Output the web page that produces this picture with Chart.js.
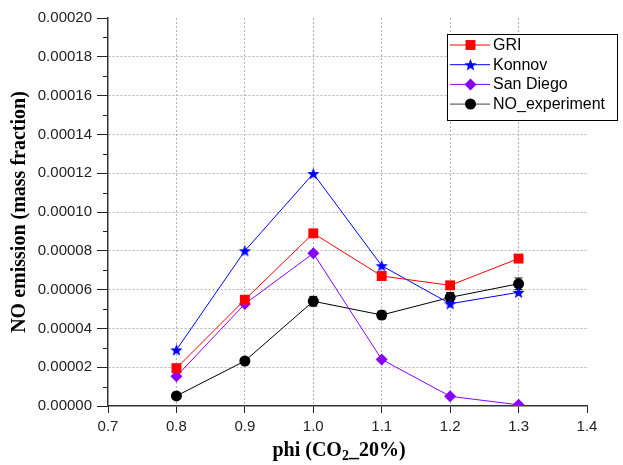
<!DOCTYPE html>
<html>
<head>
<meta charset="utf-8">
<script src="https://cdn.jsdelivr.net/npm/chart.js@4.4.0/dist/chart.umd.min.js"></script>
<style>
  html, body { margin: 0; padding: 0; background: #fff; }
</style>
</head>
<body>
<canvas id="noChart" width="623" height="465"></canvas>
<script>
// data
var phi = [0.8, 0.9, 1.0, 1.1, 1.2, 1.3];
var griValues = [0.0000195, 0.0000548, 0.0000890, 0.0000670, 0.0000622, 0.0000760];
var konnovValues = [0.0000289, 0.0000800, 0.0001198, 0.0000723, 0.0000527, 0.0000586];
var sanDiegoValues = [0.0000153, 0.0000526, 0.0000787, 0.0000240, 0.0000050, 0.0000006];
var experimentValues = [0.0000052, 0.0000232, 0.0000540, 0.0000469, 0.0000560, 0.0000630];
var experimentErrors = [0.0000010, 0.0000010, 0.0000025, 0.0000020, 0.0000025, 0.0000030];
var seriesLabels = ['GRI', 'Konnov', 'San Diego', 'NO_experiment'];
var xTicks = [0.7, 0.8, 0.9, 1.0, 1.1, 1.2, 1.3, 1.4];
var yTicks = [0, 0.00002, 0.00004, 0.00006, 0.00008, 0.0001, 0.00012, 0.00014, 0.00016, 0.00018, 0.0002];

function makeStar(color, r) {
  var s = Math.ceil(r * 2) + 2;
  var c = document.createElement('canvas');
  c.width = s;
  c.height = s;
  var g = c.getContext('2d');
  g.fillStyle = color;
  g.beginPath();
  for (var i = 0; i < 10; i++) {
    var rr = i % 2 === 0 ? r : r * 0.42;
    var a = -Math.PI / 2 + i * Math.PI / 5;
    var px = s / 2 + rr * Math.cos(a);
    var py = s / 2 + 0.6 + rr * Math.sin(a);
    if (i === 0) g.moveTo(px, py); else g.lineTo(px, py);
  }
  g.closePath();
  g.fill();
  return c;
}

function toPoints(values) {
  return values.map(function(v, i) { return {x: phi[i], y: v}; });
}

var blueStar = makeStar('#0000ff', 6.5);

function drawMarker(ctx, ds, x, y) {
  var style = ds.pointStyle;
  var r = ds.pointRadius;
  ctx.save();
  ctx.fillStyle = ds.pointBackgroundColor;
  if (style instanceof HTMLCanvasElement) {
    ctx.drawImage(style, x - style.width / 2, y - style.height / 2);
  } else {
    ctx.beginPath();
    if (style === 'rect') {
      var h = r * Math.SQRT1_2;
      ctx.rect(x - h, y - h, 2 * h, 2 * h);
    } else if (style === 'rectRot') {
      ctx.moveTo(x, y - r);
      ctx.lineTo(x + r, y);
      ctx.lineTo(x, y + r);
      ctx.lineTo(x - r, y);
      ctx.closePath();
    } else {
      ctx.arc(x, y, r, 0, Math.PI * 2);
    }
    ctx.fill();
  }
  ctx.restore();
}

var titleFont = 'bold 20px "Liberation Serif", "Times New Roman", serif';
var subFont = 'bold 14px "Liberation Serif", "Times New Roman", serif';

var extrasPlugin = {
  id: 'extras',
  beforeDatasetsDraw: function(chart) {
    // error bars on the experiment series
    var ctx = chart.ctx;
    var xs = chart.scales.x, ys = chart.scales.y;
    ctx.save();
    ctx.strokeStyle = '#000';
    ctx.lineWidth = 1;
    experimentValues.forEach(function(v, i) {
      var px = xs.getPixelForValue(phi[i]);
      var top = ys.getPixelForValue(v + experimentErrors[i]);
      var bot = ys.getPixelForValue(v - experimentErrors[i]);
      ctx.beginPath();
      ctx.moveTo(px, top); ctx.lineTo(px, bot);
      ctx.moveTo(px - 4, top); ctx.lineTo(px + 4, top);
      ctx.moveTo(px - 4, bot); ctx.lineTo(px + 4, bot);
      ctx.stroke();
    });
    ctx.restore();
  },
  afterDraw: function(chart) {
    var ctx = chart.ctx;
    var ys = chart.scales.y;
    ctx.save();

    // minor ticks on the y axis
    ctx.strokeStyle = '#222';
    ctx.lineWidth = 1;
    for (var k = 0; k < 10; k++) {
      var py = Math.round(ys.getPixelForValue(0.00001 + k * 0.00002)) + 0.5;
      ctx.beginPath();
      ctx.moveTo(ys.right - 5, py);
      ctx.lineTo(ys.right, py);
      ctx.stroke();
    }

    // axis titles
    ctx.fillStyle = '#000';
    ctx.textBaseline = 'middle';
    var partA = 'phi (CO', partB = '2', partC = '_20%)';
    ctx.font = titleFont;
    var wA = ctx.measureText(partA).width;
    var wC = ctx.measureText(partC).width;
    ctx.font = subFont;
    var wB = ctx.measureText(partB).width;
    var tx = 339 - (wA + wB + wC) / 2, ty = 451;
    ctx.textAlign = 'left';
    ctx.font = titleFont;
    ctx.fillText(partA, tx, ty);
    ctx.font = subFont;
    ctx.fillText(partB, tx + wA, ty + 5);
    ctx.font = titleFont;
    ctx.fillText(partC, tx + wA + wB, ty);

    ctx.save();
    ctx.translate(20, (chart.chartArea.top + chart.chartArea.bottom) / 2);
    ctx.rotate(-Math.PI / 2);
    ctx.textAlign = 'center';
    ctx.fillText('NO emission (mass fraction)', 0, 0);
    ctx.restore();

    // legend box inside the plot
    var bx = 447, by = 34, bw = 170, bh = 86;
    ctx.fillStyle = '#fff';
    ctx.fillRect(bx, by, bw, bh);
    ctx.strokeStyle = '#000';
    ctx.lineWidth = 1;
    ctx.strokeRect(bx + 0.5, by + 0.5, bw, bh);
    ctx.font = '16px "Liberation Sans", Arial, sans-serif';
    ctx.textAlign = 'left';
    chart.data.datasets.forEach(function(ds, i) {
      var ly = 45 + i * 19.7;
      ctx.strokeStyle = ds.legendLine || ds.borderColor;
      ctx.beginPath();
      ctx.moveTo(450, ly);
      ctx.lineTo(490, ly);
      ctx.stroke();
      drawMarker(ctx, ds, 470.5, ly);
      ctx.fillStyle = '#000';
      ctx.fillText(ds.label, 493, ly + 0.5);
    });
    ctx.restore();
  }
};

var gridColor = function(ctx, lo, hi) {
  if (!ctx.tick) return 'rgba(0,0,0,0)';
  var v = ctx.tick.value;
  if (Math.abs(v - lo) < 1e-9 || Math.abs(v - hi) < 1e-9) return 'rgba(0,0,0,0)';
  return '#b4b4b4';
};

var ctx = document.getElementById('noChart').getContext('2d');
var myChart = new Chart(ctx, {
  type: 'line',
  data: {
    datasets: [{
      label: seriesLabels[0],
      data: toPoints(griValues),
      borderColor: '#ff0000',
      pointBackgroundColor: '#ff0000',
      pointBorderWidth: 0,
      pointStyle: 'rect',
      pointRadius: 7
    }, {
      label: seriesLabels[1],
      data: toPoints(konnovValues),
      borderColor: '#0000ff',
      pointBackgroundColor: '#0000ff',
      pointBorderWidth: 0,
      pointStyle: blueStar,
      pointRadius: 6
    }, {
      label: seriesLabels[2],
      data: toPoints(sanDiegoValues),
      borderColor: '#8800ff',
      pointBackgroundColor: '#8800ff',
      pointBorderWidth: 0,
      pointStyle: 'rectRot',
      pointRadius: 6
    }, {
      label: seriesLabels[3],
      data: toPoints(experimentValues),
      borderColor: '#000000',
      legendLine: '#444444',
      pointBackgroundColor: '#000000',
      pointBorderWidth: 0,
      pointStyle: 'circle',
      pointRadius: 5.5
    }]
  },
  options: {
    responsive: false,
    animation: false,
    elements: {
      line: { borderWidth: 1, tension: 0 }
    },
    layout: { padding: { top: 18, right: 36, bottom: 0, left: 0 } },
    plugins: {
      legend: { display: false },
      tooltip: { enabled: false }
    },
    scales: {
      x: {
        type: 'linear',
        min: 0.7,
        max: 1.4,
        afterFit: function(scale) { scale.height = 59; },
        afterBuildTicks: function(scale) {
          scale.ticks = xTicks.map(function(v) { return {value: v}; });
        },
        ticks: {
          color: '#222',
          padding: 5,
          maxRotation: 0,
          font: { family: '"Liberation Sans", Arial, sans-serif', size: 15 },
          callback: function(v) { return Number(v).toFixed(1); }
        },
        grid: {
          color: function(c) { return gridColor(c, 0.7, 1.4); },
          tickColor: '#222',
          tickLength: 7,
          lineWidth: 1
        },
        border: { color: '#333', width: 1.5, dash: [2, 2] }
      },
      y: {
        type: 'linear',
        min: 0,
        max: 0.0002,
        afterFit: function(scale) { scale.width = 108; },
        afterBuildTicks: function(scale) {
          scale.ticks = yTicks.map(function(v) { return {value: v}; });
        },
        ticks: {
          color: '#222',
          padding: 5,
          font: { family: '"Liberation Sans", Arial, sans-serif', size: 15 },
          callback: function(v) { return Number(v).toFixed(5); }
        },
        grid: {
          color: function(c) { return gridColor(c, 0, 0.0002); },
          tickColor: '#222',
          tickLength: 11,
          lineWidth: 1
        },
        border: { color: '#333', width: 1.5, dash: [2, 2] }
      }
    }
  },
  plugins: [extrasPlugin]
});
</script>
</body>
</html>
